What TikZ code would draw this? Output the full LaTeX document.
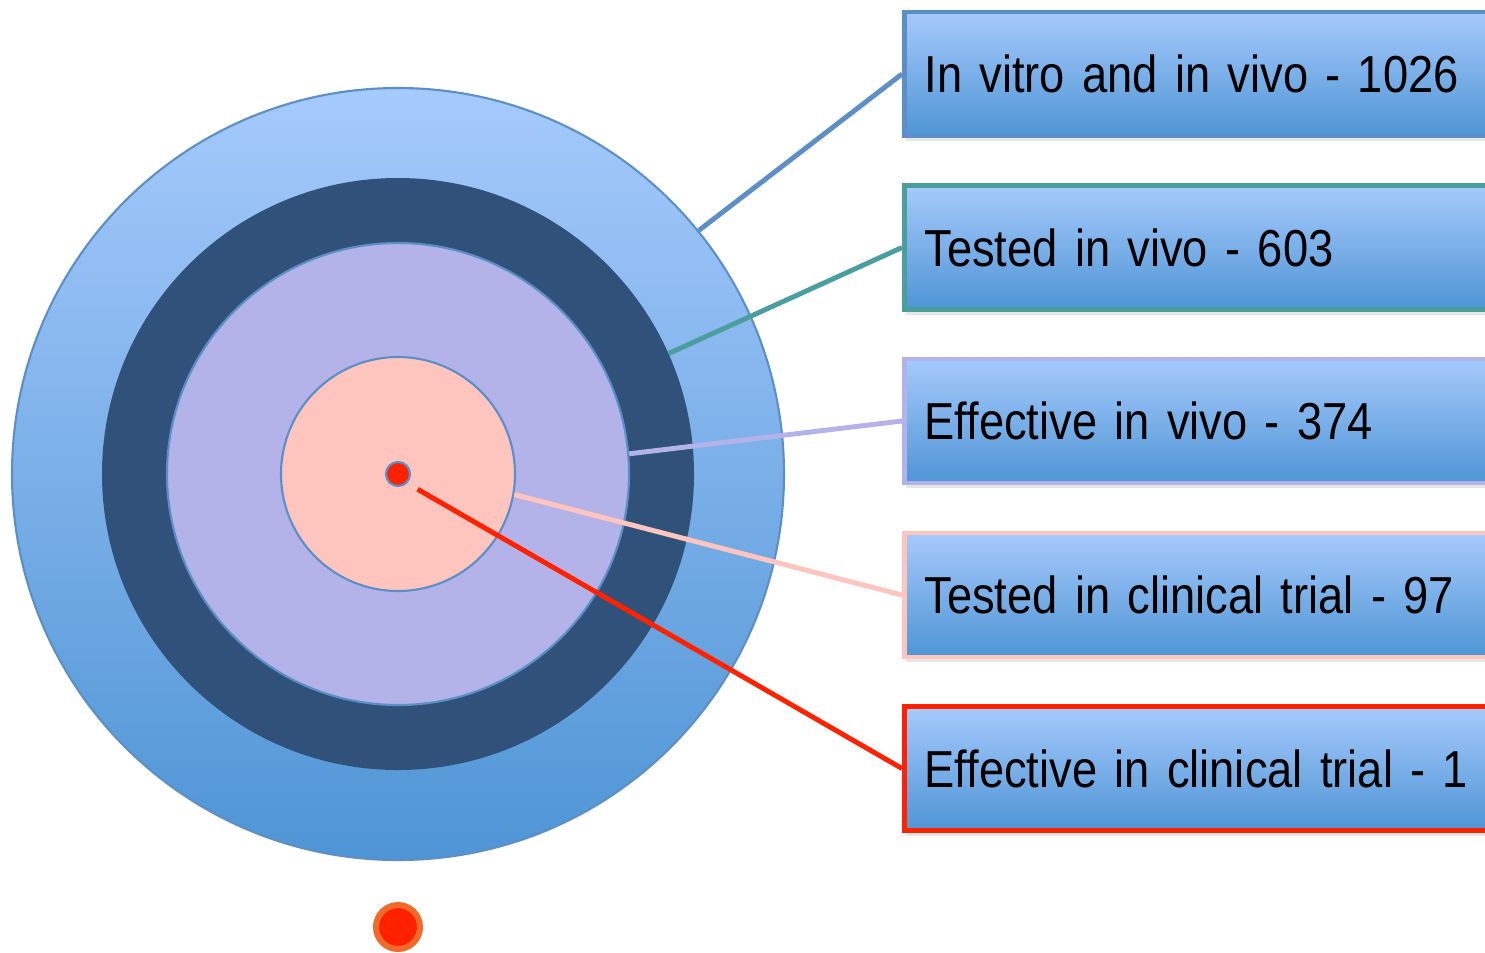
\documentclass[tikz,border=0pt]{standalone}
\usepackage{fontspec}
\setmainfont[FakeStretch=0.87]{Liberation Sans}
\usetikzlibrary{shadows}
\usetikzlibrary{calc}

\definecolor{skytop}{RGB}{166,202,252}
\definecolor{skybottom}{RGB}{79,149,213}
\definecolor{edgeblue}{RGB}{91,143,198}
\definecolor{navy}{RGB}{48,82,122}
\definecolor{lavender}{RGB}{179,179,234}
\definecolor{blush}{RGB}{254,197,191}
\definecolor{teal}{RGB}{74,158,158}
\definecolor{scarlet}{RGB}{255,34,0}
\definecolor{ember}{RGB}{242,106,42}

\tikzstyle{ring}=[circle,inner sep=0pt,draw=edgeblue,line width=0.6pt]
\tikzstyle{countbox}=[rectangle,anchor=west,top color=skytop,bottom color=skybottom,line width=1.4pt,text width=6.6cm,minimum height=1.24cm,inner xsep=0.2cm,align=left,font=\fontsize{14.8}{17}\selectfont,drop shadow={opacity=0.2,shadow xshift=0.02cm,shadow yshift=-0.05cm}]
\tikzstyle{leader} = [draw,line width=1.4pt]

\begin{document}
\begin{tikzpicture}

    \useasboundingbox (0,0) rectangle (14.85,-9.52);
    \clip (0,0) rectangle (14.85,-9.52);

    % the target, from the outside in
    \node[ring,minimum size=7.72cm,top color=skytop,bottom color=skybottom] (outer) at (3.98,-4.74) {};
    \node[circle,inner sep=0pt,minimum size=5.92cm,fill=navy] (band) at (outer.center) {};
    \node[ring,minimum size=4.62cm,fill=lavender] (core) at (outer.center) {};
    \node[ring,minimum size=2.34cm,fill=blush] (inner) at (outer.center) {};
    \node[ring,minimum size=0.24cm,fill=scarlet] (bull) at (outer.center) {};

    % the single hit below
    \node[circle,inner sep=0pt,minimum size=0.44cm,fill=scarlet,draw=ember,line width=0.06cm] (hit) at (3.98,-9.27) {};

    % boxes with the counts
    \foreach \pos/\name/\col/\label in {{(9.02,-0.74)/b1/edgeblue/In vitro and in vivo - 1026}, {(9.02,-2.475)/b2/teal/Tested in vivo - 603}, {(9.02,-4.21)/b3/lavender/Effective in vivo - 374}, {(9.02,-5.95)/b4/blush/Tested in clinical trial - 97}, {(9.02,-7.685)/b5/scarlet/Effective in clinical trial - 1}}
        \node[countbox,draw=\col] (\name) at \pos {\label};

    % leaders from the rings to the boxes
    \foreach \source/\dest/\col in {outer.39/b1/edgeblue, band.24/b2/teal, core.5/b3/lavender, inner.-10/b4/blush}
        \path[leader,\col] (\source) -- (\dest.west);
    \path[leader,scarlet,shorten <=0.12cm] (bull.-45) -- (b5.west);

\end{tikzpicture}
\end{document}
